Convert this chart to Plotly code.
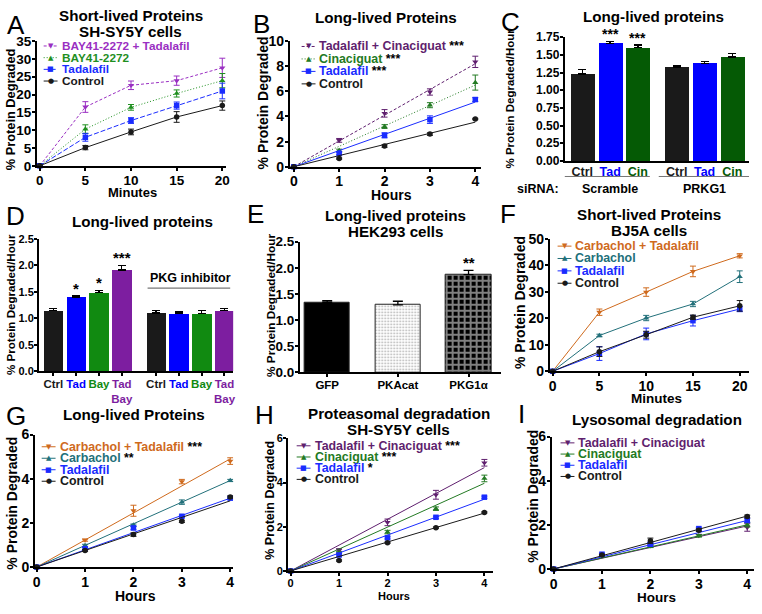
import plotly.graph_objects as go

W, H = 762, 614
FONT = "Liberation Sans, Arial, sans-serif"

# ---------------- data ----------------
# A: short-lived proteins, SH-SY5Y
A_minutes = [0, 5, 10, 15, 20]
A_bay_tad = [0, 16.5, 22.6, 23.9, 27.5]
A_bay_tad_err = [0, 1.5, 1.2, 1.3, 2.7]
A_bay = [0, 10.3, 16.4, 20.3, 23.9]
A_bay_err = [0, 1.2, 0.8, 1.0, 2.0]
A_tad = [0, 8.0, 12.7, 16.9, 21.0]
A_tad_err = [0, 1.1, 0.8, 1.0, 2.2]
A_ctrl = [0, 5.1, 9.5, 13.7, 16.9]
A_ctrl_err = [0, 0.6, 0.8, 1.5, 1.3]

# B: long-lived proteins
B_hours = [0, 1, 2, 3, 4]
B_tad_cin = [0, 2.1, 4.25, 5.95, 8.35]
B_tad_cin_err = [0, 0.15, 0.3, 0.25, 0.45]
B_cin = [0, 1.3, 3.2, 4.9, 6.7]
B_cin_err = [0, 0.1, 0.15, 0.2, 0.6]
B_tad = [0, 1.05, 2.5, 3.75, 5.35]
B_tad_err = [0, 0.1, 0.2, 0.3, 0.15]
B_ctrl = [0, 0.65, 1.65, 2.6, 3.8]
B_ctrl_err = [0, 0.05, 0.1, 0.1, 0.05]
B_fit_end = [8.2, 6.5, 5.15, 3.55]

# C: siRNA bars
C_labels = ["Ctrl", "Tad", "Cin"]
C_groups = ["Scramble", "PRKG1"]
C_scramble = [1.23, 1.66, 1.60]
C_scramble_err = [0.06, 0.03, 0.04]
C_prkg1 = [1.33, 1.38, 1.47]
C_prkg1_err = [0.02, 0.03, 0.05]
C_stars = ["", "***", "***"]

# D: PKG inhibitor bars
D_labels = ["Ctrl", "Tad", "Bay", "Tad<br>Bay"]
D_vehicle = [1.15, 1.40, 1.49, 1.91]
D_vehicle_err = [0.04, 0.03, 0.04, 0.09]
D_inhib = [1.10, 1.09, 1.09, 1.15]
D_inhib_err = [0.05, 0.03, 0.06, 0.03]
D_stars = ["", "*", "*", "***"]
D_yticks = [0.0, 0.5, 1.0, 1.5, 2.0, 2.5]

# E: HEK293 bars
E_labels = ["GFP", "PKAcat", "PKG1α"]
E_vals = [1.34, 1.29, 1.87]
E_err = [0.03, 0.07, 0.08]
E_stars = ["", "", "**"]

# F: short-lived proteins, BJ5A
F_minutes = [0, 5, 10, 15, 20]
F_carb_tad = [0, 22.3, 29.9, 37.7, 43.6]
F_carb_tad_err = [0, 1.2, 1.6, 2.0, 0.8]
F_carb = [0, 13.5, 20.1, 25.4, 35.7]
F_carb_err = [0, 0.5, 1.0, 1.0, 2.2]
F_tad = [0, 6.7, 14.1, 19.1, 23.5]
F_tad_err = [0, 2.6, 2.2, 2.0, 1.0]
F_ctrl = [0, 7.4, 13.8, 20.4, 24.7]
F_ctrl_err = [0, 1.8, 1.3, 0.8, 2.0]

# G: long-lived proteins, carbachol
G_hours = [0, 1, 2, 3, 4]
G_carb_tad = [0, 1.22, 2.55, 3.87, 4.8]
G_carb_tad_err = [0, 0.05, 0.25, 0.1, 0.15]
G_carb = [0, 0.98, 1.9, 2.94, 3.92]
G_carb_err = [0, 0.05, 0.05, 0.1, 0.05]
G_tad = [0, 0.83, 1.77, 2.3, 3.12]
G_tad_err = [0, 0.05, 0.08, 0.05, 0.05]
G_ctrl = [0, 0.75, 1.47, 2.07, 3.17]
G_ctrl_err = [0, 0.04, 0.08, 0.05, 0.05]
G_fit_end = [4.9, 3.92, 3.12, 3.0]

# H: proteasomal degradation
H_hours = [0, 1, 2, 3, 4]
H_tad_cin = [0, 0.93, 2.2, 3.45, 4.9]
H_tad_cin_err = [0, 0.08, 0.15, 0.2, 0.15]
H_cin = [0, 0.82, 1.76, 2.82, 4.19]
H_cin_err = [0, 0.05, 0.08, 0.08, 0.15]
H_tad = [0, 0.72, 1.5, 2.43, 3.34]
H_tad_err = [0, 0.05, 0.05, 0.05, 0.05]
H_ctrl = [0, 0.47, 1.28, 1.96, 2.65]
H_ctrl_err = [0, 0.03, 0.03, 0.03, 0.03]
H_fit_end = [4.68, 3.97, 3.25, 2.62]

# I: lysosomal degradation
I_hours = [0, 1, 2, 3, 4]
I_tad_cin = [0, 0.62, 1.05, 1.52, 1.88]
I_tad_cin_err = [0, 0.05, 0.05, 0.05, 0.17]
I_cin = [0, 0.6, 1.02, 1.5, 2.0]
I_cin_err = [0, 0.03, 0.05, 0.05, 0.1]
I_tad = [0, 0.67, 1.12, 1.83, 2.2]
I_tad_err = [0, 0.05, 0.08, 0.06, 0.08]
I_ctrl = [0, 0.63, 1.28, 1.76, 2.38]
I_ctrl_err = [0, 0.03, 0.12, 0.06, 0.06]
I_fit_end = [1.95, 2.0, 2.2, 2.4]

# ---------------- colours ----------------
BLACK = "#1a1a1a"
BLUE = "#1a2cff"
PURPLE_A = "#9a2fc2"
GREEN_A = "#1f8f1f"
PURPLE_B = "#5f1f6e"
GREEN_B = "#237a23"
ORANGE = "#cf6a1d"
TEAL = "#22707a"
BAR_BLUE = "#0000ff"
BAR_GREEN_C = "#055a05"
BAR_GREEN_D = "#118a11"
BAR_PURPLE = "#7d1ea0"


def fx(px):
    return px / W


def fy(py):
    return 1 - py / H


fig = go.Figure()


def ax_ids(i):
    return ("x", "y") if i == 1 else (f"x{i}", f"y{i}")


def setup_axes(i, box, xr, yr, ydtick, yfmt=None, xdtick=None, tickvals=None,
               ticktext=None, xticks="outside", yfs=12, xfs=12):
    l, r, t, b = box
    xa, ya = ax_ids(i)
    common = dict(showgrid=False, zeroline=False, showline=True, linecolor="black",
                  linewidth=1.5, ticks="outside", ticklen=3, tickwidth=1.5,
                  tickcolor="black", fixedrange=True, ticklabelstandoff=-2)
    xaxis = dict(common, domain=[fx(l), fx(r)], range=xr, anchor=ya, tickangle=0,
                 tickfont=dict(family=FONT, size=xfs, color="black", weight="bold"))
    if tickvals is not None:
        xaxis.update(tickmode="array", tickvals=tickvals, ticktext=ticktext)
    else:
        xaxis.update(tick0=0, dtick=xdtick)
    xaxis["ticks"] = xticks
    yaxis = dict(common, domain=[fy(b), fy(t)], range=yr, anchor=xa, tick0=0, dtick=ydtick,
                 tickfont=dict(family=FONT, size=yfs, color="black", weight="bold"))
    if yfmt:
        yaxis["tickformat"] = yfmt
    fig.update_layout({("xaxis" if i == 1 else f"xaxis{i}"): xaxis,
                       ("yaxis" if i == 1 else f"yaxis{i}"): yaxis})


def text(s, px, py, size, bold=True, color="black", angle=0, xanchor="center",
         yanchor="middle", family=FONT):
    fig.add_annotation(text=s, x=fx(px), y=fy(py), xref="paper", yref="paper",
                       showarrow=False, textangle=angle, xanchor=xanchor, yanchor=yanchor,
                       font=dict(family=family, size=size, color=color,
                                 weight="bold" if bold else "normal"))


def series(i, x, y, err, color, symbol, dash="solid", lines=True, msize=5.5):
    xa, ya = ax_ids(i)
    fig.add_trace(go.Scatter(
        x=x, y=y, xaxis=xa, yaxis=ya,
        mode="lines+markers" if lines else "markers",
        line=dict(color=color, width=1, dash=dash),
        marker=dict(symbol=symbol, size=msize, color=color),
        error_y=dict(type="data", array=err, color=color, thickness=1, width=3),
        cliponaxis=False, showlegend=False, hoverinfo="skip"))


def fit(i, x, end, color, dash="solid"):
    xa, ya = ax_ids(i)
    fig.add_trace(go.Scatter(
        x=[x[0], x[-1]], y=[0, end], xaxis=xa, yaxis=ya, mode="lines",
        line=dict(color=color, width=1, dash=dash), cliponaxis=False,
        showlegend=False, hoverinfo="skip"))


def legend(x0, y0, dy, entries, fs=12.4):
    for k, (label, color, sym, dash) in enumerate(entries):
        y = y0 + k * dy
        fig.add_shape(type="line", xref="paper", yref="paper", x0=fx(x0), x1=fx(x0 + 14),
                      y0=fy(y), y1=fy(y), line=dict(color=color, width=1, dash=dash))
        text(sym, x0 + 7, y, 7, bold=False, color=color, family="DejaVu Sans")
        text(label, x0 + 16, y, fs, color=color, xanchor="left")


def stars(i, xs, tops, marks, size=14):
    xa, ya = ax_ids(i)
    for xv, top, m in zip(xs, tops, marks):
        if m:
            fig.add_annotation(text=m, x=xv, y=top, xref=xa, yref=ya, showarrow=False,
                               yanchor="bottom", yshift=-3,
                               font=dict(family=FONT, size=size, color="black", weight="bold"))


def title(lines, px, py0, dy=16.5):
    for k, s in enumerate(lines):
        text(s, px, py0 + k * dy, TS)


def colored(s, color):
    return "<br>".join(f"<span style='color:{color}'>{p}</span>" for p in s.split("<br>"))


SYM = {"down": "▼", "up": "▲", "sq": "■", "dot": "●"}
YT = "% Protein Degraded"
YTH = "% Protein Degraded/Hour"
TS = 15.2  # panel title size

# ---------------- A ----------------
setup_axes(1, (35, 226, 34, 162), [-0.33, 20.43], [0, 35], 5, xdtick=5, yfs=13.5, xfs=13.5)
series(1, A_minutes, A_bay_tad, A_bay_tad_err, PURPLE_A, "triangle-down", "3px,2px")
series(1, A_minutes, A_bay, A_bay_err, GREEN_A, "triangle-up", "1px,2px")
series(1, A_minutes, A_tad, A_tad_err, BLUE, "square", "5px,2px")
series(1, A_minutes, A_ctrl, A_ctrl_err, BLACK, "circle")
legend(42, 39, 12, [("BAY41-2272 + Tadalafil", PURPLE_A, SYM["down"], "3px,2px"),
                    ("BAY41-2272", GREEN_A, SYM["up"], "1px,2px"),
                    ("Tadalafil", BLUE, SYM["sq"], "5px,2px"),
                    ("Control", BLACK, SYM["dot"], "solid")], fs=11.8)
title(["Short-lived Proteins", "SH-SY5Y cells"], 130, 8)
text(YT, 8, 104, 12.8, angle=-90)
text("Minutes", 132, 189, 13)
text("A", 14, 17, 26, bold=False)

# ---------------- B ----------------
setup_axes(2, (290, 483, 34, 163), [-0.09, 4.13], [0, 10], 2, xdtick=1, yfs=14, xfs=14)
for y, e, end, c, s, d in [(B_tad_cin, B_tad_cin_err, B_fit_end[0], PURPLE_B, "triangle-down", "3px,2px"),
                           (B_cin, B_cin_err, B_fit_end[1], GREEN_B, "triangle-up", "1px,2px"),
                           (B_tad, B_tad_err, B_fit_end[2], BLUE, "square", "solid"),
                           (B_ctrl, B_ctrl_err, B_fit_end[3], BLACK, "circle", "solid")]:
    fit(2, B_hours, end, c, d)
    series(2, B_hours, y, e, c, s, lines=False)
legend(302, 39.5, 12.8, [("Tadalafil + Cinaciguat <span style='color:black'>***</span>", PURPLE_B, SYM["down"], "3px,2px"),
                         ("Cinaciguat <span style='color:black'>***</span>", GREEN_B, SYM["up"], "1px,2px"),
                         ("Tadalafil <span style='color:black'>***</span>", BLUE, SYM["sq"], "solid"),
                         ("Control", BLACK, SYM["dot"], "solid")])
title(["Long-lived Proteins"], 387, 10)
text(YT, 264, 97, 14, angle=-90)
text("Hours", 393, 192, 14)
text("B", 262, 16, 26, bold=False)

# ---------------- C ----------------
C_pos = [g * 3.4 + k for g in range(2) for k in range(3)]
C_cols = [BLACK, BAR_BLUE, BAR_GREEN_C]
C_ticktext = [colored(lab, c) for _ in C_groups for lab, c in zip(C_labels, C_cols)]
setup_axes(3, (567, 753, 30, 157), [-0.64, 6.0], [0, 1.75], 0.25, yfmt=".2f",
           tickvals=C_pos, ticktext=C_ticktext, xticks="", yfs=12, xfs=12.5)
xa, ya = ax_ids(3)
fig.add_trace(go.Bar(
    x=C_pos, y=C_scramble + C_prkg1, width=0.86, xaxis=xa, yaxis=ya,
    marker=dict(color=C_cols * 2, line=dict(width=0)),
    error_y=dict(type="data", symmetric=False, array=C_scramble_err + C_prkg1_err,
                 arrayminus=[0] * 6, color="black", thickness=1.3, width=4),
    showlegend=False, hoverinfo="skip"))
stars(3, C_pos[:3], [v + e for v, e in zip(C_scramble, C_scramble_err)], C_stars)
for g, name in enumerate(C_groups):
    x0, x1 = (-0.64, 2.43) if g == 0 else (2.75, 6.0)
    fig.add_shape(type="line", xref=xa, yref="paper", x0=x0, x1=x1, y0=fy(173), y1=fy(173),
                  line=dict(color="#777", width=1))
    fig.add_annotation(text=name, x=C_pos[g * 3 + 1], y=fy(186), xref=xa, yref="paper",
                       showarrow=False, xanchor="center", yanchor="middle",
                       font=dict(family=FONT, size=12.5, color="black", weight="bold"))
text("siRNA:", 540, 186, 12.5)
title(["Long-lived proteins"], 657, 9)
text(YTH, 512, 93, 11.5, angle=-90)
text("C", 513, 14, 26, bold=False)

# ---------------- D ----------------
D_pos = [g * 4.5 + k for g in range(2) for k in range(4)]
D_cols = [BLACK, BAR_BLUE, BAR_GREEN_D, BAR_PURPLE]
D_ticktext = [colored(lab, c) for _ in range(2) for lab, c in zip(D_labels, D_cols)]
setup_axes(4, (37, 233, 237, 373), [-0.64, 7.88], [0, 2.5], 0.5,
           tickvals=D_pos, ticktext=D_ticktext, yfs=11, xfs=11.5)
fig.update_layout(yaxis4=dict(tickmode="array", tickvals=D_yticks,
                              ticktext=[f"{v:.1f}" for v in D_yticks]))
xa, ya = ax_ids(4)
fig.add_trace(go.Bar(
    x=D_pos, y=D_vehicle + D_inhib, width=0.86, xaxis=xa, yaxis=ya,
    marker=dict(color=D_cols * 2, line=dict(width=0)),
    error_y=dict(type="data", symmetric=False, array=D_vehicle_err + D_inhib_err,
                 arrayminus=[0] * 8, color="black", thickness=1.3, width=4),
    showlegend=False, hoverinfo="skip"))
stars(4, D_pos[:4], [v + e for v, e in zip(D_vehicle, D_vehicle_err)], D_stars, size=15)
fig.add_shape(type="line", xref=xa, yref=ya, x0=4.13, x1=7.75, y0=1.57, y1=1.57,
              line=dict(color="#555", width=1))
fig.add_annotation(text="PKG inhibitor", x=6.0, y=1.6, xref=xa, yref=ya, yanchor="bottom",
                   showarrow=False, font=dict(family=FONT, size=12.5, color="black", weight="bold"))
title(["Long-lived proteins"], 142, 219)
text(YTH, 8, 304, 11.6, angle=-90)
text("D", 14, 214, 26, bold=False)

# ---------------- E ----------------
E_pos = list(range(len(E_labels)))
setup_axes(5, (300, 503, 240, 374), [-0.39, 2.46], [0, 2.5], 0.5, yfmt=".1f",
           tickvals=E_pos, ticktext=E_labels, yfs=13.5, xfs=11.5)
xa, ya = ax_ids(5)
fig.add_trace(go.Bar(
    x=E_pos, y=E_vals, width=0.64, xaxis=xa, yaxis=ya,
    marker=dict(color=["black", "white", "black"], line=dict(color="#222", width=1),
                pattern=dict(shape=["", ".", "+"], fgcolor=["black", "#666", "white"],
                             bgcolor=["black", "white", "black"], size=[6, 3, 6],
                             solidity=[0.5, 0.25, 0.55], fillmode="overlay")),
    error_y=dict(type="data", symmetric=False, array=E_err, arrayminus=[0] * 3,
                 color="black", thickness=1.3, width=5),
    showlegend=False, hoverinfo="skip"))
stars(5, E_pos, [v + e for v, e in zip(E_vals, E_err)], E_stars, size=15)
title(["Long-lived proteins", "HEK293 cells"], 397, 213)
text(YTH, 271, 305, 11.8, angle=-90)
text("E", 256, 212, 26, bold=False)

# ---------------- F ----------------
setup_axes(6, (552, 753, 237, 373), [-0.32, 21.0], [0, 50], 10, xdtick=5, yfs=14, xfs=14)
series(6, F_minutes, F_carb_tad, F_carb_tad_err, ORANGE, "triangle-down")
series(6, F_minutes, F_carb, F_carb_err, TEAL, "triangle-up")
series(6, F_minutes, F_tad, F_tad_err, BLUE, "square")
series(6, F_minutes, F_ctrl, F_ctrl_err, BLACK, "circle")
legend(560, 244.5, 12.7, [("Carbachol + Tadalafil", ORANGE, SYM["down"], "solid"),
                          ("Carbachol", TEAL, SYM["up"], "solid"),
                          ("Tadalafil", BLUE, SYM["sq"], "solid"),
                          ("Control", BLACK, SYM["dot"], "solid")])
title(["Short-lived Proteins", "BJ5A cells"], 652, 212)
text(YT, 522, 302, 14, angle=-90)
text("Minutes", 660, 401, 13.5)
text("F", 510, 212, 26, bold=False)

# ---------------- G ----------------
setup_axes(7, (33, 233, 438, 574), [-0.04, 4.06], [0, 6], 2, xdtick=1, yfs=14, xfs=14)
for y, e, end, c, s in [(G_carb_tad, G_carb_tad_err, G_fit_end[0], ORANGE, "triangle-down"),
                        (G_carb, G_carb_err, G_fit_end[1], TEAL, "triangle-up"),
                        (G_tad, G_tad_err, G_fit_end[2], BLUE, "square"),
                        (G_ctrl, G_ctrl_err, G_fit_end[3], BLACK, "circle")]:
    fit(7, G_hours, end, c)
    series(7, G_hours, y, e, c, s, lines=False)
legend(40, 450.5, 11.8, [("Carbachol + Tadalafil <span style='color:black'>***</span>", ORANGE, SYM["down"], "solid"),
                         ("Carbachol <span style='color:black'>**</span>", TEAL, SYM["up"], "solid"),
                         ("Tadalafil", BLUE, SYM["sq"], "solid"),
                         ("Control", BLACK, SYM["dot"], "solid")])
title(["Long-lived Proteins"], 133, 417)
text(YT, 10, 508, 14, angle=-90)
text("Hours", 135, 604, 14)
text("G", 14, 419, 26, bold=False)

# ---------------- H ----------------
setup_axes(8, (288, 495, 442, 578), [-0.06, 4.18], [0, 6], 2, xdtick=1, yfs=11, xfs=11)
for y, e, end, c, s in [(H_tad_cin, H_tad_cin_err, H_fit_end[0], PURPLE_B, "triangle-down"),
                        (H_cin, H_cin_err, H_fit_end[1], GREEN_B, "triangle-up"),
                        (H_tad, H_tad_err, H_fit_end[2], BLUE, "square"),
                        (H_ctrl, H_ctrl_err, H_fit_end[3], BLACK, "circle")]:
    fit(8, H_hours, end, c)
    series(8, H_hours, y, e, c, s, lines=False)
legend(297, 449.5, 11.5, [("Tadalafil + Cinaciguat <span style='color:black'>***</span>", PURPLE_B, SYM["down"], "solid"),
                          ("Cinaciguat <span style='color:black'>***</span>", GREEN_B, SYM["up"], "solid"),
                          ("Tadalafil <span style='color:black'>*</span>", BLUE, SYM["sq"], "solid"),
                          ("Control", BLACK, SYM["dot"], "solid")])
title(["Proteasomal degradation", "SH-SY5Y cells"], 400, 416.5)
text(YT, 270, 505, 12.5, angle=-90)
text("Hours", 395, 604, 11)
text("H", 265, 418, 26, bold=False)

# ---------------- I ----------------
setup_axes(9, (554, 758, 440, 576), [-0.04, 4.14], [0, 6], 2, xdtick=1, yfs=14, xfs=14)
for y, e, end, c, s in [(I_tad_cin, I_tad_cin_err, I_fit_end[0], PURPLE_B, "triangle-down"),
                        (I_cin, I_cin_err, I_fit_end[1], GREEN_B, "triangle-up"),
                        (I_tad, I_tad_err, I_fit_end[2], BLUE, "square"),
                        (I_ctrl, I_ctrl_err, I_fit_end[3], BLACK, "circle")]:
    fit(9, I_hours, end, c)
    series(9, I_hours, y, e, c, s, lines=False)
legend(563, 446.5, 11.5, [("Tadalafil + Cinaciguat", PURPLE_B, SYM["down"], "solid"),
                          ("Cinaciguat", GREEN_B, SYM["up"], "solid"),
                          ("Tadalafil", BLUE, SYM["sq"], "solid"),
                          ("Control", BLACK, SYM["dot"], "solid")])
title(["Lysosomal degradation"], 660, 423)
text(YT, 535, 501, 14, angle=-90)
text("Hours", 660, 605, 13.5)
text("I", 524, 417, 26, bold=False)

fig.update_layout(width=W, height=H, margin=dict(l=0, r=0, t=0, b=0),
                  paper_bgcolor="white", plot_bgcolor="white", showlegend=False,
                  bargap=0, font=dict(family=FONT, color="black"))

# the page body has a default 8px margin; drop it so the figure sits at the window corner
fig.write_html("out.html", config={"displayModeBar": False},
               post_script="document.body.style.margin='0';")
